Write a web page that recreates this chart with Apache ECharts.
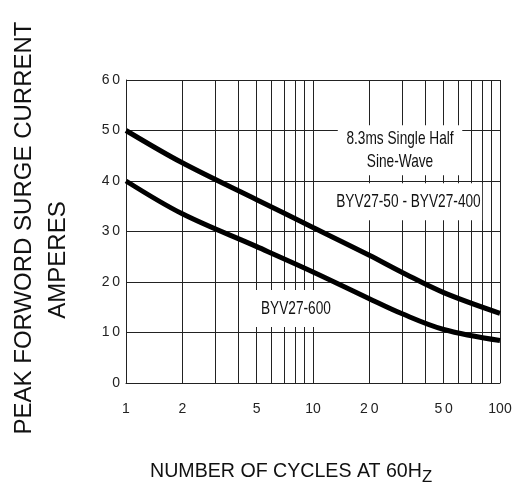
<!DOCTYPE html>
<html>
<head>
<meta charset="utf-8">
<script src="https://cdn.jsdelivr.net/npm/echarts@6/dist/echarts.min.js"></script>
<style>
html, body { margin: 0; padding: 0; background: #fff; }
#main { width: 521px; height: 485px; }
</style>
</head>
<body>
<div id="main"></div>
<script>
// number of cycles at 60Hz
var cycles = [1, 2, 5, 10, 20, 30, 50, 100];
// peak forward surge current (A)
var surgeHigh = [50, 43.6, 36.3, 30.8, 25.3, 21.9, 17.9, 13.8]; // BYV27-50 - BYV27-400
var surgeLow = [40, 33.5, 27, 22.0, 16.7, 13.7, 10.6, 8.4];     // BYV27-600

var gridCycles = [1, 2, 3, 4, 5, 6, 7, 8, 9, 10, 20, 30, 40, 50, 60, 70, 80, 90, 100];
var xTickValues = [1, 2, 5, 10, 20, 50, 100];
var xTickLabels = ['1', '2', '5', '10', '2\u20090', '5\u20090', '100'];

var noteText = ['8.3ms Single Half\nSine-Wave', 'BYV27-50 - BYV27-400', 'BYV27-600'];
var noteX = [29.2, 32.4, 8.1];
var noteY = [46.1, 35.9, 14.75];
var notePad = [[2, 12], [7, 2], [7, 17]];

function pairs(xs, ys) {
  return xs.map(function (x, i) { return [x, ys[i]]; });
}

var plain = "'Liberation Sans', Arial, sans-serif";

var chart = echarts.init(document.getElementById('main'));

var option = {
  animation: false,
  backgroundColor: '#fff',
  grid: { left: 126, right: 21, top: 80, bottom: 102 },
  xAxis: {
    type: 'log',
    logBase: 10,
    min: 1,
    max: 100,
    axisLine: { show: true, lineStyle: { color: '#222', width: 1 } },
    axisTick: { show: false },
    axisLabel: { show: false },
    splitLine: { show: false }
  },
  yAxis: {
    type: 'value',
    min: 0,
    max: 60,
    interval: 10,
    axisLine: { show: true, lineStyle: { color: '#222', width: 1 } },
    axisTick: { show: false },
    axisLabel: {
      color: '#222',
      fontSize: 14,
      fontFamily: plain,
      margin: 6,
      formatter: function (v) { return String(v).split('').join('\u2009'); }
    },
    splitLine: { show: true, lineStyle: { color: '#222', width: 1 } }
  },
  series: [
    {
      name: 'grid',
      type: 'line',
      z: 1,
      data: [],
      silent: true,
      markLine: {
        silent: true,
        symbol: 'none',
        animation: false,
        lineStyle: { color: '#222', width: 1, type: 'solid' },
        data: gridCycles.map(function (v) {
          var k = xTickValues.indexOf(v);
          return {
            xAxis: v,
            label: {
              show: k >= 0,
              position: 'start',
              distance: 19,
              formatter: k >= 0 ? xTickLabels[k] : '',
              color: '#222',
              fontSize: 14,
              fontFamily: plain
            }
          };
        })
      }
    },
    {
      name: 'BYV27-50 - BYV27-400',
      type: 'line',
      z: 5,
      data: pairs(cycles, surgeHigh),
      smooth: 0.35,
      showSymbol: false,
      lineStyle: { color: '#000', width: 5 }
    },
    {
      name: 'BYV27-600',
      type: 'line',
      z: 5,
      data: pairs(cycles, surgeLow),
      smooth: 0.35,
      showSymbol: false,
      lineStyle: { color: '#000', width: 5 }
    }
  ]
};

chart.setOption(option);

// titles + condensed notes placed with the chart's own scales
function drawText() {
  var g = [
    {
      type: 'text', x: 24, y: 228, rotation: Math.PI / 2, z: 100,
      style: { text: 'PEAK FORWORD SURGE CURRENT', font: '24px ' + plain, fill: '#111', align: 'center', verticalAlign: 'middle' }
    },
    {
      type: 'text', x: 58, y: 260, rotation: Math.PI / 2, z: 100,
      style: { text: 'AMPERES', font: '24px ' + plain, fill: '#111', align: 'center', verticalAlign: 'middle' }
    },
    {
      type: 'text', x: 150, y: 456, z: 100, scaleX: 0.98,
      style: {
        text: '{a|NUMBER OF CYCLES AT 60H}{b|Z}',
        fill: '#111',
        rich: {
          a: { fontSize: 20, fontFamily: plain, lineHeight: 30, verticalAlign: 'middle' },
          b: { fontSize: 17, fontFamily: plain, lineHeight: 30, verticalAlign: 'bottom' }
        }
      }
    }
  ];
  noteText.forEach(function (t, i) {
    var pt = chart.convertToPixel({ xAxisIndex: 0, yAxisIndex: 0 }, [noteX[i], noteY[i]]);
    g.push({
      type: 'text', x: pt[0], y: pt[1], scaleX: 0.72, z: 100,
      style: {
        text: t,
        font: '19px ' + plain,
        fill: '#111',
        align: 'center',
        verticalAlign: 'middle',
        lineHeight: 23,
        backgroundColor: '#fff',
        padding: notePad[i]
      }
    });
  });
  chart.setOption({ graphic: g });
}
drawText();

window.onresize = function () {
  chart.resize();
  drawText();
};
</script>
</body>
</html>
